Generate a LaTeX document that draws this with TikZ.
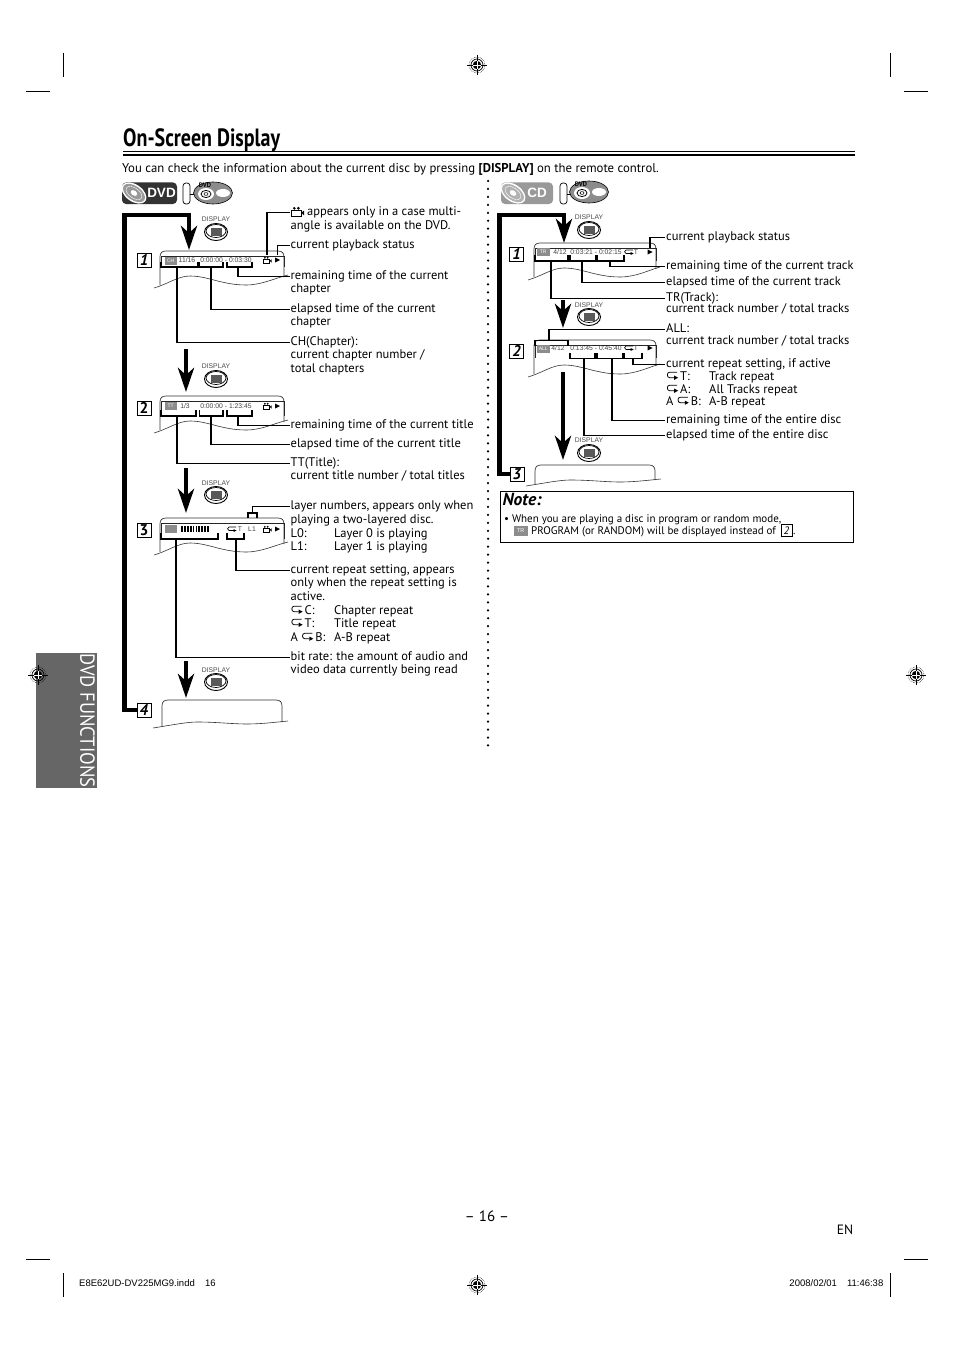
\documentclass[tikz,border=0pt]{standalone}
\usepackage{fontspec}
\usepackage{graphicx}
\setmainfont{PT Sans}
\newfontfamily\ariala{Liberation Sans}
\usetikzlibrary{arrows.meta,calc}
\tikzset{
  lab/.style={anchor=mid west,inner sep=0pt,yshift=-1.7pt,font=\fontsize{12.5}{14}\selectfont},
  note/.style={anchor=mid west,inner sep=0pt,yshift=-1pt,font=\fontsize{11}{13}\selectfont},
  osd/.style={inner sep=0pt,text=black!75,font=\ariala\fontsize{6.8}{7}\selectfont},
  disp/.style={inner sep=0pt,text=black!70,font=\ariala\fontsize{6.8}{7}\selectfont},
  conn/.style={line width=1.1pt,black},
  brk/.style={line width=1.3pt,black},
  thin mark/.style={line width=.9pt,black},
  bigl/.style={line width=4.6pt,black,-{Stealth[length=24pt,width=16pt,inset=7pt]}},
  numbox/.style={draw,line width=.8pt,fill=white,minimum width=14pt,minimum height=14pt,inner sep=0pt,font=\bfseries\fontsize{15.5}{16}\selectfont},
  ftr/.style={inner sep=0pt,font=\ariala\fontsize{9.5}{10}\selectfont}
}
\newcommand{\regm}[2]{%
  \begin{scope}[shift={(#1,#2)}]
    \draw[line width=.3pt] (-10,0)--(10,0) (0,-10)--(0,10);
    \draw[line width=.5pt,densely dotted] (0,0) circle (8);
    \draw[line width=.7pt] (0,0) circle (6);
    \fill (0,0) circle (4.2);
    \draw[white,line width=.7pt] (-4.2,0)--(4.2,0) (0,-4.2)--(0,4.2);
  \end{scope}}
\newcommand{\scrn}[3]{% x y width
  \begin{scope}[shift={(#1,#2)}]
    \draw[line width=.7pt,black!80] (0,34) -- (0,6) .. controls (0,2) and (2,0) .. (6,0) -- (#3-6,0) .. controls (#3-2,0) and (#3,2) .. (#3,6) -- (#3,26);
    \draw[line width=.6pt,black!80] (-6,37) .. controls (8,33) and (18,25) .. (30,25) .. controls (48,25) and (62,34) .. (86,34) .. controls (102,34) and (115,27) .. (#3+4,24);
  \end{scope}}
\newcommand{\scrs}[4]{% x y width depth : short screen
  \begin{scope}[shift={(#1,#2)}]
    \draw[line width=.7pt,black!80] (0,#4) -- (0,6) .. controls (0,2) and (2,0) .. (6,0) -- (#3-6,0) .. controls (#3-2,0) and (#3,2) .. (#3,6) -- (#3,#4-4);
    \draw[line width=.6pt,black!80] (-9,#4+2) .. controls (10,#4-1) and (25,#4-4) .. (35,#4-4) .. controls (55,#4-4) and (70,#4-2) .. (85,#4-2) .. controls (100,#4-2) and (115,#4-4) .. (#3+6,#4-5);
  \end{scope}}
\newcommand{\barfr}[4]{% x y width height
  \draw[line width=.6pt,black!85] (#1+1,#2+#4) -- (#1+1,#2+5) -- (#1+#3,#2+5) -- (#1+#3,#2+#4);}
\newcommand{\btn}[2]{%
  \fill[white,draw=black,line width=.9pt] (#1,#2) ellipse (11.5 and 8.5);
  \draw[line width=.7pt] (#1,#2-1) ellipse (10 and 6.5);
  \fill[black!65] (#1-5.5,#2-4.5) rectangle (#1+5.5,#2+3.5);}
\newcommand{\icon}[3]{% x y text
  \fill[black!45] (#1,#2-4) rectangle (#1+12.5,#2+4);
  \node[inner sep=0pt,text=white,font=\ariala\fontsize{5}{5}\selectfont] at (#1+6.2,#2) {#3};}
\newcommand{\camm}[2]{%
  \draw[line width=.5pt] (#1-4,#2-1.2) rectangle (#1+2.5,#2+3);
  \fill (#1+2.5,#2+.8) -- (#1+4.5,#2-.6) -- (#1+4.5,#2+2.6) -- cycle;
  \fill (#1-2.2,#2-2.2) circle (1) (#1+.6,#2-2.2) circle (1);}
\newcommand{\playm}[2]{\fill (#1-2.5,#2-2.5) -- (#1+2.5,#2) -- (#1-2.5,#2+2.5) -- cycle;}
\newcommand{\repm}[2]{%
  \draw[line width=.6pt] (#1+4,#2-2) -- (#1-3,#2-2) .. controls (#1-5,#2-2) and (#1-5,#2+1.5) .. (#1-3,#2+1.5) -- (#1+2,#2+1.5);
  \fill (#1+1.5,#2) -- (#1+4.5,#2+1.5) -- (#1+1.5,#2+3) -- cycle;}
\newcommand{\rp}{\tikz[baseline=0pt,x=1pt,y=1pt]{\draw[line width=.8pt] (10,8) -- (2.5,8) .. controls (-.5,8) and (-.5,2.5) .. (2.5,2.5) -- (7,2.5); \fill (7,.3) -- (11,2.5) -- (7,4.7) -- cycle;}}
\newcommand{\logod}[5]{% x0 x1 fill discfill cx
  \fill[#3,rounded corners=4pt] (#1,182.5) rectangle (#2,204);
  \begin{scope}[shift={(#5,193)},rotate=-35]
    \fill[white] (0,0) ellipse (14 and 8.5);
    \fill[#4] (0,0) ellipse (12.5 and 7);
    \draw[white,line width=.4pt] (0,0) ellipse (9 and 5);
    \fill[white] (0,0) ellipse (3.6 and 2.4);
  \end{scope}}
\newcommand{\discic}[3]{% x y pillx
  \draw[line width=.7pt,rounded corners=3pt] (#3,183) rectangle (#3+7,204);
  \draw[line width=.7pt] (#3+7,194) -- (#1-17,194);
  \fill[black!45,draw=black,line width=.6pt] (#1,#2) ellipse (19.5 and 11);
  \fill[white] (#1+10,#2) ellipse (7 and 4);
  \fill[white] (#1-7,#2+1) ellipse (8 and 6);
  \draw[line width=.8pt] (#1-7,#2+1) ellipse (5 and 3.6);
  \draw[line width=.6pt] (#1-7,#2+1) ellipse (2 and 1.4);}
\begin{document}
\begin{tikzpicture}[x=1pt,y=-1pt]
\useasboundingbox (0,0) rectangle (954,1351);
% trim marks
\draw[thin mark] (63,53)--(63,77) (26,91)--(50,91) (890,53)--(890,77) (904,91)--(928,91)
 (26,1259)--(50,1259) (63,1273)--(63,1297) (890,1273)--(890,1297) (904,1259)--(928,1259);
\regm{477}{65}\regm{477}{1285}\regm{916}{675}
% title
\node (title) [anchor=base west,inner sep=0pt,font=\bfseries\fontsize{25}{25}\selectfont] at (123,147) {\scalebox{.8}[1]{On-Screen Display}};
\draw[line width=1pt] (123,152)--(855,152);
\draw[line width=2.6pt] (123,155)--(855,155);
\node (intro) [lab,font=\fontsize{12.75}{14}\selectfont] at (122,168) {You can check the information about the current disc by pressing \textbf{[DISPLAY]} on the remote control.};
% side tab
\fill[black!60] (36,653) rectangle (97,788);
\regm{38}{675}
\node (tab) [rotate=-90,inner sep=0pt,text=white] at (87.5,720.5) {\resizebox{134pt}{14.5pt}{DVD FUNCTIONS}};
% logos
\logod{122}{177}{black!80}{black!40}{134}
\node (dvdl) [inner sep=0pt,text=white,font=\ariala\bfseries\fontsize{13.5}{14}\selectfont] at (161.5,193) {DVD};
\discic{213}{193}{183}
\node (dvds1) [inner sep=0pt,font=\bfseries\fontsize{6.5}{7}\selectfont] at (205,185.5) {DVD};
\logod{501}{553}{black!40}{black!30}{513}
\node (cdl) [inner sep=0pt,text=white,font=\ariala\bfseries\fontsize{13.5}{14}\selectfont] at (537,193) {CD};
\discic{589}{192}{560}
\node (dvds2) [inner sep=0pt,font=\bfseries\fontsize{6.5}{7}\selectfont] at (581,184.5) {DVD};
% dotted divider
\foreach \i in {0,...,71} \fill (488,181+\i*7.95) circle (1.25);
%---------- numbered boxes
\node (b1) [numbox] at (144,260) {\textit{1}};
\node (b2) [numbox] at (144,408) {2};
\node (b3) [numbox] at (144,530) {3};
\node (b4) [numbox] at (144,710) {\textit{4}};
\node (rb1) [numbox] at (516.5,254) {\textit{1}};
\node (rb2) [numbox] at (516.5,351) {\textit{2}};
\node (rb3) [numbox] at (517,474) {\textit{3}};
%---------- display buttons
\node (d1) [disp] at (216,219) {DISPLAY}; \btn{216}{232}
\node (d2) [disp] at (216,366) {DISPLAY}; \btn{216}{379}
\node (d3) [disp] at (216,483) {DISPLAY}; \btn{216}{495}
\node (d4) [disp] at (216,670) {DISPLAY}; \btn{216}{682}
\node (rd1) [disp] at (589,217) {DISPLAY}; \btn{589}{230}
\node (rd2) [disp] at (589,305) {DISPLAY}; \btn{589}{317}
\node (rd3) [disp] at (589,440) {DISPLAY}; \btn{589}{453}
%---------- screens, left
\scrn{160}{251}{124}\barfr{160}{251}{124}{16}
\icon{164.5}{261}{CH}
\node (o1a) [osd] at (187,260) {11/16};
\node (o1b) [osd] at (226,260) {0:00:00 - 0:03:30};
\camm{267}{260}\playm{277.5}{260}
\scrn{160}{396}{124}\barfr{160}{396}{124}{20}
\icon{164.5}{406}{TT}
\node (o2a) [osd] at (185,406) {1/3};
\node (o2b) [osd] at (226,406) {0:00:00 - 1:23:45};
\camm{267}{406}\playm{277.5}{406}
\scrn{160}{518}{124}\barfr{160}{518}{124}{21}
\icon{164.5}{529}{}
\foreach \i in {0,...,9} \fill (181+\i*2.9,526) rectangle (182.8+\i*2.9,532);
\repm{232}{529}
\node (o3t) [osd] at (240,529) {T};
\node (o3l) [osd] at (252,529) {L1};
\camm{267}{529}\playm{277.5}{529}
\scrs{162}{700}{120}{26}
%---------- screens, right
\scrn{534}{243}{122}\barfr{534}{243}{122}{18}
\icon{537}{252}{TR}
\node (r1a) [osd] at (560,252) {4/12};
\node (r1b) [osd] at (596,252) {0:03:21 - 0:02:15};
\repm{629}{252}\node (r1t) [osd] at (636,252) {T};\playm{650}{252}
\scrn{534}{340}{122}\barfr{534}{340}{122}{18}
\icon{537}{349}{ALL}
\node (r2a) [osd] at (558,348) {4/12};
\node (r2b) [osd] at (596,348) {0:13:45 - 0:45:40};
\repm{629}{348}\node (r2t) [osd] at (636,348) {T};\playm{650}{348}
\scrs{535}{465}{120}{19}
%---------- labels, left
\node (la1) [lab] at (307,211) {appears only in a case multi-};
\begin{scope}[shift={(297.5,211.5)},scale=1.45]\camm{0}{0}\end{scope}
\node (la1b) [lab] at (290.5,225) {angle is available on the DVD.};
\node (la2) [lab] at (290.5,244) {current playback status};
\node (la3) [lab] at (290.5,275) {remaining time of the current};
\node (la3b) [lab] at (290.5,288) {chapter};
\node (la4) [lab] at (290.5,308) {elapsed time of the current};
\node (la4b) [lab] at (290.5,321) {chapter};
\node (la5) [lab] at (290.5,341) {CH(Chapter):};
\node (la5b) [lab] at (290.5,354) {current chapter number /};
\node (la5c) [lab] at (290.5,368) {total chapters};
\node (lb1) [lab] at (290.5,424) {remaining time of the current title};
\node (lb2) [lab] at (290.5,443) {elapsed time of the current title};
\node (lb3) [lab] at (290.5,462) {TT(Title):};
\node (lb3b) [lab] at (290.5,475) {current title number / total titles};
\node (lc1) [lab] at (290.5,505) {layer numbers, appears only when};
\node (lc1b) [lab] at (290.5,519) {playing a two-layered disc.};
\node (lc1c) [lab] at (290.5,533) {L0:};
\node (lc1d) [lab] at (334,533) {Layer 0 is playing};
\node (lc1e) [lab] at (290.5,546) {L1:};
\node (lc1f) [lab] at (334,546) {Layer 1 is playing};
\node (lc2) [lab] at (290.5,569) {current repeat setting, appears};
\node (lc2b) [lab] at (290.5,582) {only when the repeat setting is};
\node (lc2c) [lab] at (290.5,596) {active.};
\node (lc2d) [lab] at (290.5,610) {\rp\,C:};
\node (lc2e) [lab] at (334,610) {Chapter repeat};
\node (lc2f) [lab] at (290.5,623) {\rp\,T:};
\node (lc2g) [lab] at (334,623) {Title repeat};
\node (lc2h) [lab] at (290.5,637) {A \rp\,B:};
\node (lc2i) [lab] at (334,637) {A-B repeat};
\node (lc3) [lab] at (290.5,656) {bit rate: the amount of audio and};
\node (lc3b) [lab] at (290.5,669) {video data currently being read};
%---------- labels, right
\node (ra1) [lab] at (666,236) {current playback status};
\node (ra2) [lab] at (666,265) {remaining time of the current track};
\node (ra3) [lab] at (666,281) {elapsed time of the current track};
\node (ra4) [lab] at (666,297) {TR(Track):};
\node (ra4b) [lab] at (666,308) {current track number / total tracks};
\node (ra5) [lab] at (666,328) {ALL:};
\node (ra5b) [lab] at (666,340) {current track number / total tracks};
\node (ra6) [lab] at (666,363) {current repeat setting, if active};
\node (ra6a) [lab] at (666,376) {\rp\,T:};
\node (ra6b) [lab] at (709,376) {Track repeat};
\node (ra6c) [lab] at (666,389) {\rp\,A:};
\node (ra6d) [lab] at (709,389) {All Tracks repeat};
\node (ra6e) [lab] at (666,401) {A \rp\,B:};
\node (ra6f) [lab] at (709,401) {A-B repeat};
\node (ra7) [lab] at (666,419) {remaining time of the entire disc};
\node (ra8) [lab] at (666,434) {elapsed time of the entire disc};
%---------- brackets
\draw[brk] (161,262)|-(198,267)--(198,262) (199.5,262)|-(223,267)--(223,262) (227,262)|-(252,267)--(252,262);
\draw[brk] (161,410)|-(196,416)--(196,410) (199.5,410)|-(223,416)--(223,410) (227,410)|-(252,416)--(252,410);
\draw[brk] (161,533)|-(218,539)--(218,533) (227,533)|-(244,539)--(244,533);
\draw[brk] (248,518)|-(257,513)--(257,518);
\draw[brk] (535,255)|-(568,261)--(568,255) (570,255)|-(596,261)--(596,255) (597.5,255)|-(624,261)--(624,255);
\draw[brk] (535,346)|-(568,340.5)--(568,346);
\draw[brk] (570,353)|-(596,358.5)--(623,358.5)--(623,353) (624.5,353)|-(642,358.5)--(642,353);
\fill (594,353) rectangle (598,359);
%---------- connectors, left
\coordinate (c1) at (267,255); \coordinate (c2) at (277.5,255);
\coordinate (c3) at (238,267); \coordinate (c4) at (211,267); \coordinate (c5) at (177,267);
\draw[conn] (c1) |- ([xshift=-1pt]la1.mid west -| la1b.west);
\draw[conn] (c2) |- ([xshift=-1pt]la2.mid west);
\draw[conn] (c3) |- ([xshift=-1pt]la3.mid west);
\draw[conn,line width=1.5pt] (c4) |- ([xshift=-1pt]la4.mid west);
\draw[conn] (c5) |- ([xshift=-1pt]la5.mid west);
\coordinate (c6) at (238,416); \coordinate (c7) at (211,416); \coordinate (c8) at (177,416);
\draw[conn,line width=1.5pt] (c6) |- ([xshift=-1pt]lb1.mid west);
\draw[conn] (c7) |- ([xshift=-1pt]lb2.mid west);
\draw[conn,line width=1.5pt] (c8) |- ([xshift=-1pt]lb3.mid west);
\coordinate (c9) at (252.5,513); \coordinate (c10) at (236,539); \coordinate (c11) at (176,539);
\draw[conn] (c9) |- ([xshift=-1pt]lc1.mid west);
\draw[conn,line width=1.5pt] (c10) |- ([xshift=-1pt]lc2.mid west);
\draw[conn] (c11) |- ([xshift=-1pt]lc3.mid west);
%---------- connectors, right
\coordinate (e1) at (650,248); \coordinate (e2) at (610,261); \coordinate (e3) at (582,261); \coordinate (e4) at (551,261);
\draw[conn] (e1) |- ([xshift=-1pt]ra1.mid west);
\draw[conn] (e2) |- ([xshift=-1pt]ra2.mid west);
\draw[conn,line width=1.5pt] (e3) |- ([xshift=-1pt]ra3.mid west);
\draw[conn,line width=1.5pt] (e4) |- ([xshift=-1pt]ra4.mid west);
\coordinate (e5) at (549,340.5); \coordinate (e6) at (633,358.5); \coordinate (e7) at (612,358.5); \coordinate (e8) at (584,358.5);
\draw[conn,line width=1.5pt] (e5) |- ([xshift=-1pt]ra5.mid west);
\draw[conn,line width=1.5pt] (e6) |- ([xshift=-1pt]ra6.mid west);
\draw[conn,line width=1.5pt] (e7) |- ([xshift=-1pt]ra7.mid west);
\draw[conn] (e8) |- ([xshift=-1pt]ra8.mid west);
%---------- big arrows
\coordinate (t1) at (124.5,215); \coordinate (t2) at (189,215); \coordinate (t3) at (189,250);
\draw[bigl] (b4.west) -| (t1) -- (t2) -- (t3);
\coordinate (u1) at (186,349); \coordinate (u2) at (186,392);
\draw[bigl] (u1) -- (u2);
\coordinate (u3) at (186,468); \coordinate (u4) at (186,513);
\draw[bigl] (u3) -- (u4);
\coordinate (u5) at (186,661); \coordinate (u6) at (186,698);
\draw[bigl] (u5) -- (u6);
\coordinate (v1) at (499.5,215); \coordinate (v2) at (564,215); \coordinate (v3) at (564,243);
\draw[bigl] (rb3.west) -| (v1) -- (v2) -- (v3);
\coordinate (w1) at (563,300); \coordinate (w2) at (563,328);
\draw[bigl] (w1) -- (w2);
\coordinate (w3) at (563,372); \coordinate (w4) at (563,460);
\draw[bigl] (w3) -- (w4);
%---------- note
\draw[line width=.8pt] (500.5,491.5) rectangle (853.5,542.5);
\node (nt) [anchor=mid west,inner sep=0pt,font=\bfseries\itshape\fontsize{17.5}{18}\selectfont] at (502.5,503) {Note:};
\node (n1) [note] at (504,519) {• When you are playing a disc in program or random mode,};
\fill[black!45] (513.5,526) rectangle (528,535.5);
\node (n2i) [inner sep=0pt,text=white,font=\ariala\fontsize{5.5}{6}\selectfont] at (520.7,531) {TR};
\node (n2) [note] at (531,531) {PROGRAM (or RANDOM) will be displayed instead of};
\node (n3) [draw,line width=.7pt,minimum width=11pt,minimum height=12pt,inner sep=0pt,font=\fontsize{10.8}{11}\selectfont] at (786.5,530.5) {\textit{2}};
\node (n4) [note] at (793,531) {.};
%---------- footer
\node (pg) [inner sep=0pt,font=\fontsize{15}{15}\selectfont] at (487,1216.5) {– 16 –};
\node (en) [inner sep=0pt,font=\fontsize{13.5}{14}\selectfont] at (845,1230) {EN};
\node (f1) [ftr,anchor=mid west] at (79,1284) {E8E62UD-DV225MG9.indd};
\node (f2) [ftr,anchor=mid west] at (205,1284) {16};
\node (f3) [ftr,anchor=mid east] at (883.5,1284) {2008/02/01\hspace{10pt}11:46:38};
\end{tikzpicture}
\end{document}
